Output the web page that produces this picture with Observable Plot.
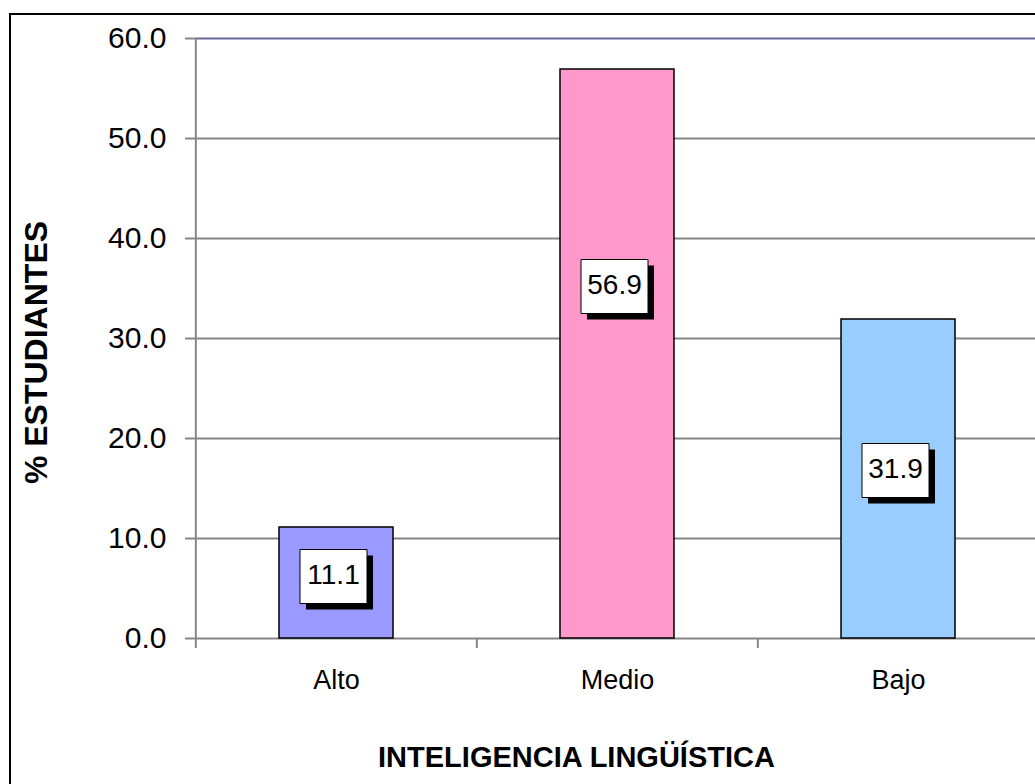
<!DOCTYPE html>
<html>
<head>
<meta charset="utf-8">
<script src="https://cdn.jsdelivr.net/npm/d3@7"></script>
<script src="https://cdn.jsdelivr.net/npm/@observablehq/plot@0.6"></script>
<style>
html, body { margin: 0; padding: 0; background: #fff; overflow: hidden; }
#wrap { position: relative; width: 1035px; height: 784px; overflow: hidden; }
#chart svg { display: block; }
#border { position: absolute; left: 9px; top: 13px; width: 1200px; height: 1000px; border: 2px solid #000; box-sizing: border-box; pointer-events: none; }
</style>
</head>
<body>
<div id="wrap"><div id="chart"></div><div id="border"></div></div>
<script>
// ---- data ----
const categories = ["Alto", "Medio", "Bajo"];
const values = [11.1, 56.9, 31.9];
// where each value label box sits, in % units on the value axis
const labelAt = [6.2, 35.2, 16.8];
const yTicks = [0, 10, 20, 30, 40, 50, 60];
const barColors = ["#9999FF", "#FF99CC", "#99CCFF"];
const yTitle = "% ESTUDIANTES";
const xTitle = "INTELIGENCIA LINGÜÍSTICA";

const data = categories.map((c, i) => ({ cat: c, value: values[i], labelAt: labelAt[i] }));

// ---- layout / style ----
const W = 1035, H = 784;
const X0 = 195, X1 = 1039;
const step = (X1 - X0) / categories.length;
const boxW = 67, boxH = 54, shadow = 6;
const rectSymbol = (w, h) => ({
  draw(ctx) {
    ctx.moveTo(-w / 2, -h / 2);
    ctx.lineTo(w / 2, -h / 2);
    ctx.lineTo(w / 2, h / 2);
    ctx.lineTo(-w / 2, h / 2);
    ctx.closePath();
  }
});
const grid = "#868686";
const fmt = d3.format(".1f");

const chart = Plot.plot({
  width: W,
  height: H,
  marginLeft: X0,
  marginRight: 0,
  marginTop: 38,
  marginBottom: 146,
  style: { fontFamily: "'Liberation Sans', Arial, sans-serif", background: "transparent", color: "black" },
  x: { domain: categories, range: [X0, X1], paddingInner: 0.595, paddingOuter: 0.2975, axis: null },
  y: { domain: [0, 60], axis: null },
  color: { domain: categories, range: barColors },
  marks: [
    Plot.ruleY(yTicks.filter(t => t < 60), { stroke: grid, strokeWidth: 2 }),
    Plot.ruleY(yTicks.filter(t => t === 60), { stroke: "#666699", strokeWidth: 2 }),
    Plot.axisY({ ticks: yTicks, tickSize: 10, tickPadding: 19, tickFormat: fmt, fontSize: 30, stroke: grid, strokeWidth: 2, label: null }),
    Plot.ruleX([categories[0]], { dx: -step / 2, stroke: grid, strokeWidth: 2 }),
    Plot.axisX({ tickSize: 10, tickFormat: () => "", dx: -step / 2, stroke: grid, strokeWidth: 2, label: null }),
    Plot.axisX({ tickSize: 0, tickPadding: 31, fontSize: 27, label: null }),
    Plot.barY(data, { x: "cat", y: "value", fill: "cat", stroke: "black", strokeWidth: 1.5 }),
    Plot.dot(data, { x: "cat", y: "labelAt", symbol: rectSymbol(boxW, boxH), fill: "black", stroke: "none", dx: -3 + shadow, dy: shadow }),
    Plot.dot(data, { x: "cat", y: "labelAt", symbol: rectSymbol(boxW, boxH), fill: "white", stroke: "black", strokeWidth: 1, dx: -3 }),
    Plot.text(data, { x: "cat", y: "labelAt", text: d => fmt(d.value), fontSize: 28, dx: -3, dy: -1, fill: "black" }),
    Plot.text([yTitle], { frameAnchor: "left", textAnchor: "middle", lineAnchor: "middle", rotate: -90, dx: 36 - X0, dy: 14, fontSize: 32, fontWeight: "bold", fill: "black" }),
    Plot.text([xTitle], { frameAnchor: "bottom", textAnchor: "middle", lineAnchor: "middle", dx: -39, dy: 119, fontSize: 29, fontWeight: "bold", fill: "black" })
  ]
});
document.getElementById("chart").appendChild(chart);
</script>
</body>
</html>
